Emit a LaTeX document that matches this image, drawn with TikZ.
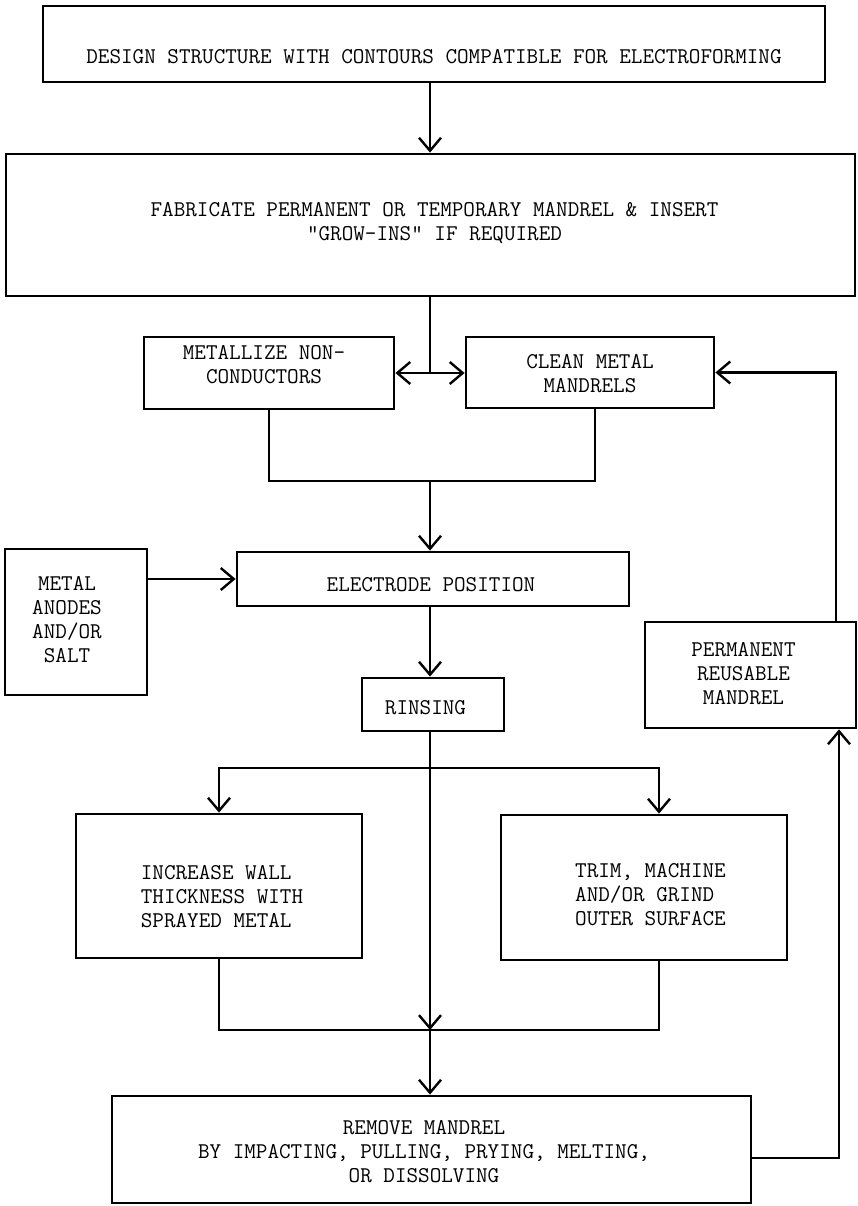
\documentclass[tikz,border=0pt]{standalone}
\usepackage{fontspec}
\usetikzlibrary{arrows.meta}
\newcommand\bt[4][c]{\raisebox{-#3pt}[\height][\depth]{\makebox[0pt]{\hspace*{#2pt}\hspace*{#2pt}\begin{tabular}{@{}#1@{}}#4\end{tabular}}}}
\begin{document}
\begin{tikzpicture}[x=1pt,y=-1pt,
  box/.style={draw, line width=2.8pt, inner sep=0pt, font=\fontsize{22.5}{24}\selectfont\ttfamily\addfontfeatures{FakeBold=1.3}},
  con/.style={line width=2.4pt},
  arr/.style={con, -{Straight Barb[length=13pt,width=22pt]}}]
\useasboundingbox[fill=white] (0,0) rectangle (857,1206);
% boxes
\node[box, minimum width=782pt, minimum height=76pt] (design) at (434,44)
  {\bt{0}{15}{DESIGN STRUCTURE WITH CONTOURS COMPATIBLE FOR ELECTROFORMING}};
\node[box, minimum width=849pt, minimum height=142pt] (fab) at (430.5,225)
  {\bt{4}{-1}{FABRICATE PERMANENT OR TEMPORARY MANDREL \& INSERT\\"GROW-INS" IF REQUIRED}};
\node[box, minimum width=250pt, minimum height=72pt] (metal) at (269,373)
  {\bt{-5}{-6.5}{METALLIZE NON-\\CONDUCTORS}};
\node[box, minimum width=248pt, minimum height=71pt] (clean) at (590,372.5)
  {\bt{0}{3}{CLEAN METAL\\MANDRELS}};
\node[box, minimum width=142pt, minimum height=146pt] (anodes) at (76,622)
  {\bt{-9}{0}{METAL\\ANODES\\AND/OR\\SALT}};
\node[box, minimum width=392pt, minimum height=54pt] (elec) at (433,579)
  {\bt{-2}{8}{ELECTRODE POSITION}};
\node[box, minimum width=142pt, minimum height=53pt] (rins) at (433,704.5)
  {\bt{-7.5}{5.5}{RINSING}};
\node[box, minimum width=211pt, minimum height=106pt] (perm) at (750.5,675)
  {\bt{-7}{1}{PERMANENT\\REUSABLE\\MANDREL}};
\node[box, minimum width=286pt, minimum height=144pt] (incr) at (219,886)
  {\bt[l]{3}{13}{INCREASE WALL\\THICKNESS WITH\\SPRAYED METAL}};
\node[box, minimum width=286pt, minimum height=145pt] (trim) at (644,887.5)
  {\bt[l]{6.5}{9}{TRIM, MACHINE\\AND/OR GRIND\\OUTER SURFACE}};
\node[box, minimum width=639pt, minimum height=107pt] (remove) at (431.5,1149.5)
  {\bt{-7.5}{4}{REMOVE MANDREL\\BY IMPACTING, PULLING, PRYING, MELTING,\\OR DISSOLVING}};
% helper coordinates
\coordinate (cx) at (430,0);
\coordinate (j1) at (430,373);
\coordinate (j2) at (430,481);
\coordinate (j3) at (430,768);
\coordinate (j4) at (430,1030);
\coordinate (tc) at (659,0);
\coordinate (rc) at (839,1158);
\coordinate (fc) at (836,0);
% connectors
\draw[arr] (design.south -| cx) -- (fab.north -| cx);
\draw[con] (fab.south -| cx) -- (j1);
\draw[arr] (j1) -- (metal.east |- j1);
\draw[arr] (j1) -- (clean.west |- j1);
\draw[con] (metal.south) |- (j2) -| ([xshift=5pt]clean.south);
\draw[arr] (j2) -- (elec.north -| cx);
\draw[arr] (anodes.east |- elec.west) -- (elec.west);
\draw[arr] (elec.south -| cx) -- (rins.north -| cx);
\draw[arr] (rins.south -| cx) -- (j4);
\draw[arr] (j4) -- (remove.north -| cx);
\draw[arr] (j3) -| (incr.north);
\draw[arr] (j3) -| (trim.north -| tc);
\draw[con] (incr.south) |- (j4) -| (trim.south -| tc);
\draw[arr] (remove.east |- rc) -| (perm.south -| rc);
\draw[arr] (perm.north -| fc) |- (clean.east);
\end{tikzpicture}
\end{document}
